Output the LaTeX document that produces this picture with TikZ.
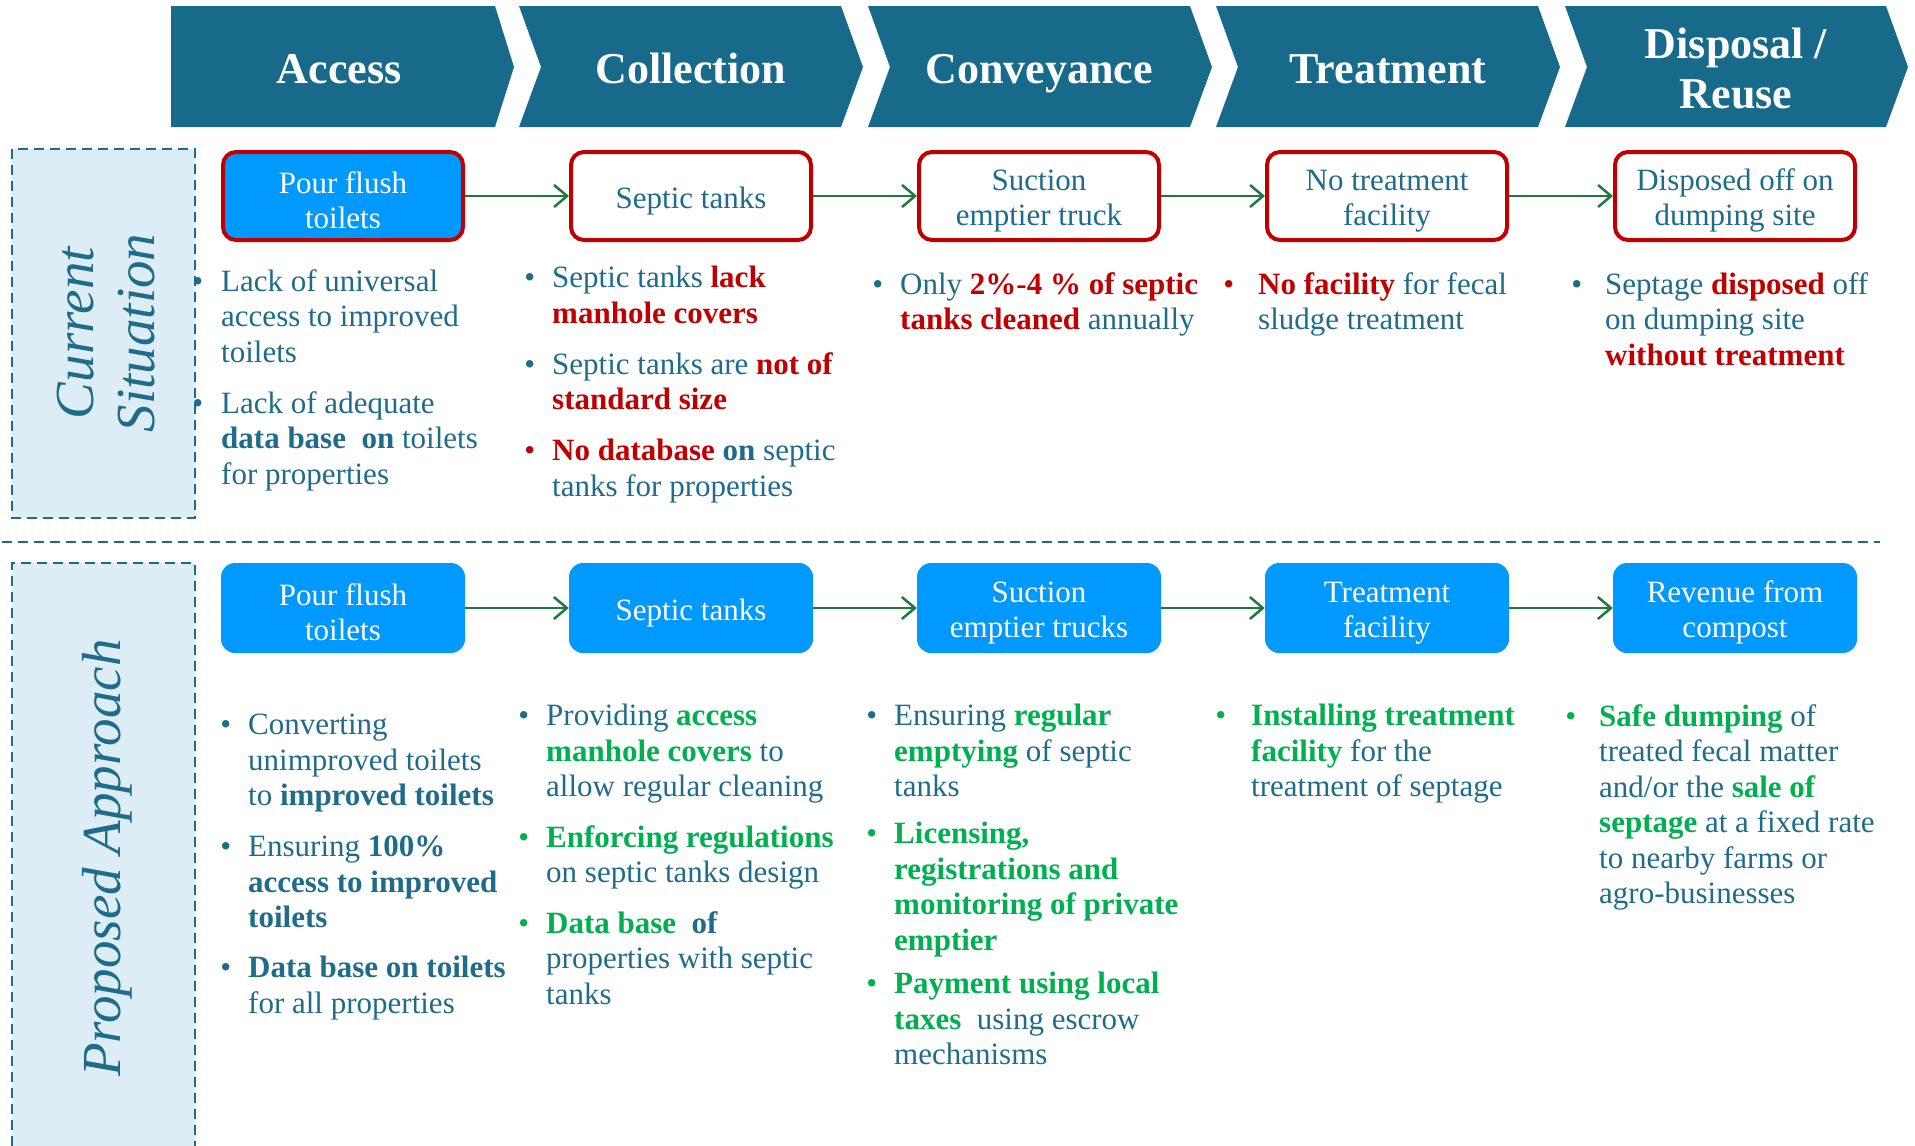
\documentclass[tikz,border=0pt]{standalone}
\usepackage{fontspec}
\setmainfont{Liberation Serif}
\usetikzlibrary{arrows.meta,positioning}

\definecolor{headblue}{RGB}{24,106,139}
\definecolor{inkteal}{RGB}{31,108,138}
\definecolor{panelfill}{RGB}{221,237,246}
\definecolor{stagered}{RGB}{192,0,0}
\definecolor{stageblue}{RGB}{0,153,255}
\definecolor{goodgreen}{RGB}{0,176,80}
\definecolor{flowgreen}{RGB}{30,122,58}

\newcommand{\bad}[1]{\textbf{\textcolor{stagered}{#1}}}
\newcommand{\good}[1]{\textbf{\textcolor{goodgreen}{#1}}}
\newcommand{\key}[1]{\textbf{#1}}
\newcommand{\dotitem}[2][17pt]{\leavevmode\llap{\textcolor{#2}{\textbullet}\hspace{#1}}}
% taller first line so box labels sit a little lower
\newcommand{\boxstrut}{\rule{0pt}{31pt}}

\tikzset{
  chevron/.style={fill=headblue, draw=none},
  headtext/.style={text=white, font=\fontsize{44}{50}\selectfont\bfseries, align=center},
  panel/.style={fill=panelfill},
  paneledge/.style={draw=inkteal, line width=2.2pt, dash pattern=on 10pt off 6pt},
  paneltext/.style={text=inkteal, font=\fontsize{55}{61}\selectfont\itshape, align=center, rotate=90},
  nowbox/.style={draw=stagered, line width=4pt, fill=white, rounded corners=13pt, minimum width=240pt, minimum height=88pt, text=inkteal, align=center, font=\fontsize{31}{35}\selectfont},
  nextbox/.style={fill=stageblue, rounded corners=14pt, minimum width=244pt, minimum height=90pt, text=white, align=center, font=\fontsize{31}{35}\selectfont},
  flow/.style={draw=flowgreen, line width=2.5pt, -{Straight Barb[length=13pt,width=22pt]}},
  point/.style={anchor=north west, inner sep=0pt, align=left, text=inkteal, font=\fontsize{31}{35.5}\selectfont}
}

\begin{document}
\begin{tikzpicture}[x=1pt,y=-1pt]
  \useasboundingbox (0,0) rectangle (1915,1146);

  % stage chevrons along the top
  \fill[chevron] (171,6) -- (495,6) -- (514,67) -- (495,127) -- (171,127) -- cycle;
  \fill[chevron] (519,6) -- (841,6) -- (863,67) -- (841,127) -- (519,127) -- (541,67) -- cycle;
  \fill[chevron] (868,6) -- (1190,6) -- (1212,67) -- (1190,127) -- (868,127) -- (890,67) -- cycle;
  \fill[chevron] (1216,6) -- (1538,6) -- (1560,67) -- (1538,127) -- (1216,127) -- (1238,67) -- cycle;
  \fill[chevron] (1565,6) -- (1886,6) -- (1908,67) -- (1886,127) -- (1565,127) -- (1587,67) -- cycle;
  \node[headtext, anchor=base] (hd1) at (339,83) {Access};
  \node[headtext, anchor=base] (hd2) at (691,83) {Collection};
  \node[headtext, anchor=base] (hd3) at (1039,83) {Conveyance};
  \node[headtext, anchor=base] (hd4) at (1388,83) {Treatment};
  \node[headtext] (hd5) at (1736,69) {Disposal /\\Reuse};

  % side panels
  \fill[panel] (12,149) rectangle (195,518);
  \draw[paneledge] (12,149) rectangle (195,518);
  \node[paneltext] (nowlabel) at (106,333) {Current\\Situation};
  \fill[panel] (12,563) rectangle (195,1146);
  \draw[paneledge] (12,1146) |- (195,563) -- (195,1146);
  \node[paneltext] (nextlabel) at (107,858) {Proposed Approach};
  \draw[paneledge] (2,542) -- (1880,542);

  % current chain
  \node[nowbox, fill=stageblue, text=white] (now1) at (343,196) {\boxstrut Pour flush\\toilets};
  \node[nowbox] (now2) at (691,196) {\boxstrut Septic tanks};
  \node[nowbox] (now3) at (1039,196) {\boxstrut Suction\\emptier truck};
  \node[nowbox] (now4) at (1387,196) {\boxstrut No treatment\\facility};
  \node[nowbox] (now5) at (1735,196) {\boxstrut Disposed off on\\dumping site};
  \draw[flow] (now1) -- (now2);
  \draw[flow] (now2) -- (now3);
  \draw[flow] (now3) -- (now4);
  \draw[flow] (now4) -- (now5);

  \node[point] (now1a) at (221,269) {\dotitem[18pt]{inkteal}Lack of universal\\access to improved\\toilets};
  \node[point] (now1b) at (221,391) {\dotitem[18pt]{inkteal}Lack of adequate\\\key{data base~ on} toilets\\for properties};
  \node[point] (now2a) at (552,266) {\dotitem{inkteal}Septic tanks \bad{lack}\\\bad{manhole covers}};
  \node[point] (now2b) at (552,352) {\dotitem{inkteal}Septic tanks are \bad{not of}\\\bad{standard size}};
  \node[point] (now2c) at (552,439) {\dotitem{stagered}\bad{No database} \key{on} septic\\tanks for properties};
  \node[point] (now3a) at (900,272) {\dotitem{inkteal}Only \bad{2\%-4 \% of septic}\\\bad{tanks cleaned} annually};
  \node[point] (now4a) at (1258,272) {\dotitem[24pt]{stagered}\bad{No facility} for fecal\\sludge treatment};
  \node[point] (now5a) at (1605,272) {\dotitem[23pt]{inkteal}Septage \bad{disposed} off\\on dumping site\\\bad{without treatment}};

  % proposed chain
  \node[nextbox] (next1) at (343,608) {\boxstrut Pour flush\\toilets};
  \node[nextbox] (next2) at (691,608) {\boxstrut Septic tanks};
  \node[nextbox] (next3) at (1039,608) {\boxstrut Suction\\emptier trucks};
  \node[nextbox] (next4) at (1387,608) {\boxstrut Treatment\\facility};
  \node[nextbox] (next5) at (1735,608) {\boxstrut Revenue from\\compost};
  \draw[flow] (next1) -- (next2);
  \draw[flow] (next2) -- (next3);
  \draw[flow] (next3) -- (next4);
  \draw[flow] (next4) -- (next5);

  \node[point] (next1a) at (248,714) {\dotitem{inkteal}Converting\\unimproved toilets\\to \key{improved toilets}};
  \node[point] (next1b) at (248,836) {\dotitem{inkteal}Ensuring \key{100\%}\\\key{access to improved}\\\key{toilets}};
  \node[point] (next1c) at (248,956) {\dotitem{inkteal}\key{Data base on toilets}\\for all properties};
  \node[point] (next2a) at (546,704) {\dotitem{inkteal}Providing \good{access}\\\good{manhole covers} to\\allow regular cleaning};
  \node[point] (next2b) at (546,825) {\dotitem{goodgreen}\good{Enforcing regulations}\\on septic tanks design};
  \node[point] (next2c) at (546,911) {\dotitem{goodgreen}\good{Data base}~ \key{of}\\properties with septic\\tanks};
  \node[point] (next3a) at (894,704) {\dotitem{inkteal}Ensuring \good{regular}\\\good{emptying} of septic\\tanks};
  \node[point] (next3b) at (894,822) {\dotitem{goodgreen}\good{Licensing,}\\\good{registrations and}\\\good{monitoring of private}\\\good{emptier}};
  \node[point] (next3c) at (894,972) {\dotitem{goodgreen}\good{Payment using local}\\\good{taxes}~ using escrow\\mechanisms};
  \node[point] (next4a) at (1251,704) {\dotitem[25pt]{goodgreen}\good{Installing treatment}\\\good{facility} for the\\treatment of septage};
  \node[point] (next5a) at (1599,704) {\dotitem[23pt]{goodgreen}\good{Safe dumping} of\\treated fecal matter\\and/or the \good{sale of}\\\good{septage} at a fixed rate\\to nearby farms or\\agro-businesses};
\end{tikzpicture}
\end{document}
